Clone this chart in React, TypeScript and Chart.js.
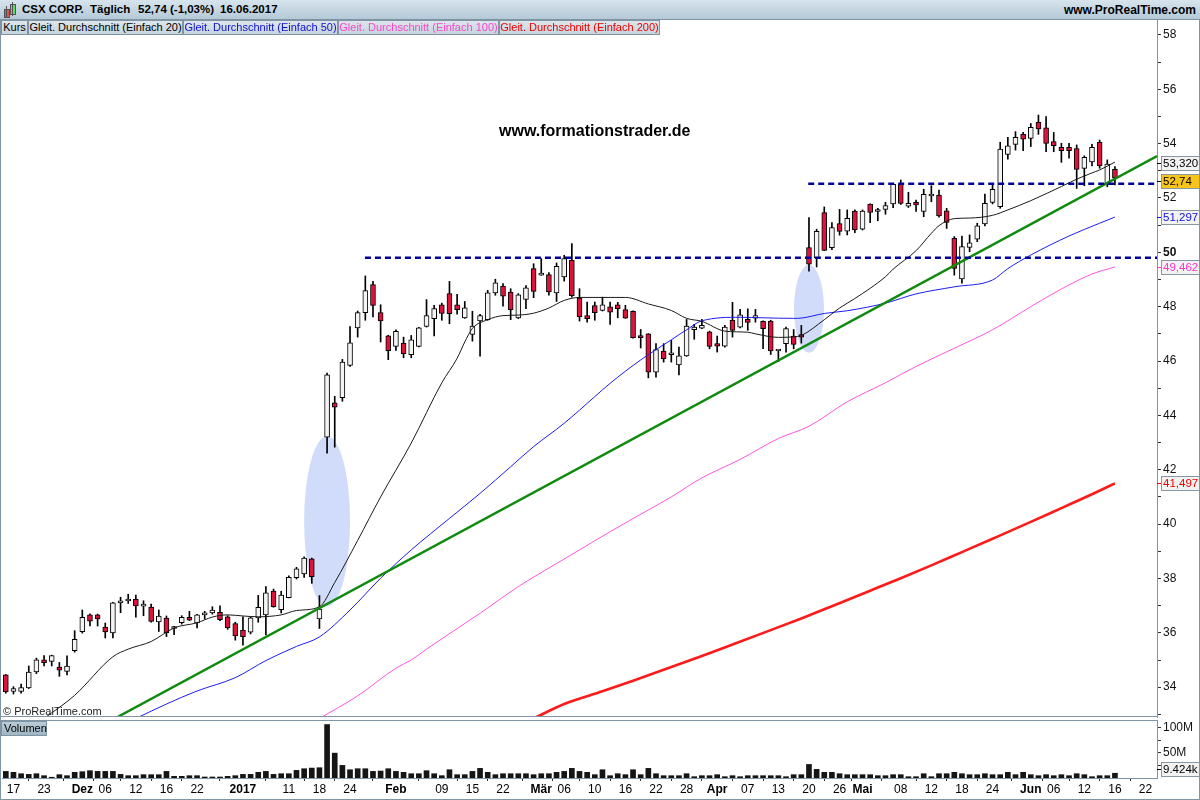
import React, { useEffect, useRef } from 'react';
import { Chart, registerables } from 'chart.js';

Chart.register(...registerables);

const FONT = '"Liberation Sans", Arial, Helvetica, sans-serif';

// ---- categories: trading days (16.11.2016 - 16.06.2017) + empty future slots
const dates = [
  '16.11', '17.11', '18.11', '21.11', '22.11', '23.11', '25.11', '28.11', '29.11', '30.11',
  '01.12', '02.12', '05.12', '06.12', '07.12', '08.12', '09.12', '12.12', '13.12', '14.12', '15.12', '16.12', '19.12', '20.12', '21.12', '22.12', '23.12', '27.12', '28.12', '29.12', '30.12',
  '03.01', '04.01', '05.01', '06.01', '09.01', '10.01', '11.01', '12.01', '13.01', '17.01', '18.01', '19.01', '20.01', '23.01', '24.01', '25.01', '26.01', '27.01', '30.01', '31.01',
  '01.02', '02.02', '03.02', '06.02', '07.02', '08.02', '09.02', '10.02', '13.02', '14.02', '15.02', '16.02', '17.02', '21.02', '22.02', '23.02', '24.02', '27.02', '28.02',
  '01.03', '02.03', '03.03', '06.03', '07.03', '08.03', '09.03', '10.03', '13.03', '14.03', '15.03', '16.03', '17.03', '20.03', '21.03', '22.03', '23.03', '24.03', '27.03', '28.03', '29.03', '30.03', '31.03',
  '03.04', '04.04', '05.04', '06.04', '07.04', '10.04', '11.04', '12.04', '13.04', '17.04', '18.04', '19.04', '20.04', '21.04', '24.04', '25.04', '26.04', '27.04', '28.04',
  '01.05', '02.05', '03.05', '04.05', '05.05', '08.05', '09.05', '10.05', '11.05', '12.05', '15.05', '16.05', '17.05', '18.05', '19.05', '22.05', '23.05', '24.05', '25.05', '26.05', '30.05', '31.05',
  '01.06', '02.06', '05.06', '06.06', '07.06', '08.06', '09.06', '12.06', '13.06', '14.06', '15.06', '16.06',
  '19.06', '20.06', '21.06', '22.06', '23.06',
];

// ---- OHLC
const opens = [
  34.45, 33.84, 33.84, 33.97, 34.56, 35.01, 34.95, 34.74, 34.58, 35.34,
  36.04, 36.66, 36.66, 36.21, 36.0, 37.1, 37.17, 37.24, 36.98, 36.95,
  36.4, 36.54, 36.16, 36.37, 36.57, 36.36, 36.66, 36.73, 36.75, 36.59,
  36.34, 36.1, 36.02, 36.55, 36.66, 37.54, 36.85, 37.29, 38.03, 38.17,
  38.72, 36.51, 43.2, 44.46, 44.65, 45.84, 47.22, 47.78, 48.81, 47.78,
  46.93, 46.54, 46.66, 46.23, 46.54, 47.27, 47.56, 48.07, 48.48, 48.07,
  47.59, 46.98, 47.48, 47.52, 48.51, 48.76, 48.54, 47.59, 48.27, 49.4,
  49.16, 49.18, 48.51, 49.09, 49.71, 48.32, 47.67, 48.04, 47.86, 47.99,
  48.07, 47.89, 47.83, 46.94, 47.0, 45.59, 46.37, 46.23, 45.86, 46.19,
  47.15, 47.21, 47.07, 46.64, 46.55, 47.5, 47.25, 47.53, 47.58, 47.46,
  47.47, 46.37, 46.64, 46.92, 46.97, 50.17, 49.8, 51.46, 50.17, 51.06,
  50.78, 51.52, 50.85, 51.77, 51.5, 51.58, 51.78, 52.51, 51.7, 51.84,
  51.5, 52.07, 52.11, 51.53, 50.51, 49.02, 50.18, 50.48, 51.04, 51.84,
  51.68, 53.6, 53.97, 54.34, 54.19, 54.78, 54.58, 54.07, 53.86, 53.86,
  53.82, 53.09, 53.33, 54.05, 52.51, 53.05,
];
const highs = [
  34.47, 34.02, 34.11, 34.78, 35.07, 35.16, 35.18, 34.91, 35.15, 36.08,
  36.84, 36.7, 36.69, 36.36, 37.12, 37.31, 37.42, 37.39, 37.18, 37.06,
  36.84, 36.62, 36.24, 36.63, 36.79, 36.68, 36.79, 36.96, 36.99, 36.63,
  36.39, 36.59, 36.59, 37.38, 37.7, 37.61, 37.53, 38.1, 38.41, 38.8,
  38.75, 37.37, 45.56, 44.7, 46.06, 47.27, 47.84, 49.13, 48.93, 48.07,
  46.95, 47.15, 46.88, 46.94, 47.24, 48.26, 48.05, 48.13, 48.93, 48.45,
  48.19, 47.83, 47.72, 48.6, 49.01, 48.85, 48.66, 48.48, 48.78, 49.58,
  49.77, 49.25, 49.61, 49.89, 50.32, 48.66, 48.17, 48.17, 48.35, 48.17,
  48.16, 48.05, 47.85, 47.16, 47.01, 46.64, 46.64, 46.76, 46.51, 47.53,
  47.35, 47.53, 47.1, 46.92, 47.31, 48.16, 47.9, 47.92, 47.9, 47.48,
  47.5, 46.39, 47.25, 47.16, 47.31, 51.28, 50.85, 51.67, 51.09, 51.58,
  51.56, 51.56, 51.56, 51.78, 51.62, 51.84, 52.51, 52.66, 52.21, 51.92,
  52.32, 52.45, 52.29, 51.62, 50.58, 50.6, 50.64, 51.07, 52.14, 52.48,
  54.05, 54.23, 54.44, 54.41, 54.74, 55.05, 54.99, 54.41, 54.01, 54.01,
  53.95, 53.55, 53.97, 54.13, 53.4, 53.15,
];
const lows = [
  33.78, 33.75, 33.78, 33.95, 34.5, 34.78, 34.78, 34.4, 34.45, 35.29,
  35.99, 36.25, 36.25, 35.81, 35.81, 36.74, 37.08, 36.58, 36.63, 36.39,
  36.05, 35.86, 35.93, 36.32, 36.45, 36.18, 36.51, 36.69, 36.45, 36.13,
  35.73, 35.55, 35.96, 36.39, 35.92, 36.94, 36.73, 37.28, 37.98, 38.04,
  37.82, 36.16, 42.61, 42.83, 44.52, 45.8, 46.88, 47.5, 47.62, 46.7,
  46.05, 46.39, 46.12, 46.12, 46.52, 47.25, 46.92, 47.5, 47.37, 47.72,
  47.57, 46.73, 46.18, 47.5, 48.42, 48.02, 47.52, 47.56, 47.93, 48.33,
  49.15, 48.42, 48.19, 48.94, 48.35, 47.47, 47.43, 47.5, 47.84, 47.35,
  47.59, 47.57, 46.84, 46.48, 45.38, 45.41, 45.96, 45.96, 45.49, 46.17,
  46.8, 47.19, 46.45, 46.33, 46.51, 46.88, 47.22, 47.13, 47.43, 46.45,
  46.24, 45.98, 46.33, 46.45, 46.66, 49.31, 49.46, 50.06, 50.1, 50.63,
  50.64, 50.72, 50.82, 51.09, 51.16, 51.4, 51.64, 51.76, 51.65, 51.5,
  51.31, 51.86, 51.29, 50.88, 49.16, 48.86, 50.02, 50.39, 50.97, 51.78,
  51.62, 53.43, 53.76, 53.74, 53.89, 54.34, 53.7, 53.7, 53.31, 53.46,
  52.35, 52.45, 53.18, 53.09, 52.41, 52.48,
];
const closes = [
  33.83, 33.95, 33.99, 34.56, 35.01, 34.9, 35.16, 34.63, 34.78, 35.76,
  36.57, 36.43, 36.51, 36.03, 37.1, 37.18, 37.24, 36.99, 37.0, 36.42,
  36.62, 36.0, 36.18, 36.57, 36.47, 36.66, 36.68, 36.84, 36.48, 36.18,
  35.89, 35.86, 36.55, 36.94, 37.47, 36.96, 37.39, 38.04, 38.35, 38.75,
  38.07, 36.87, 45.49, 44.3, 45.96, 46.67, 47.78, 48.59, 48.05, 47.48,
  46.38, 47.09, 46.27, 46.78, 47.22, 47.67, 47.93, 47.75, 47.74, 47.89,
  47.96, 47.29, 47.67, 48.51, 48.88, 48.39, 47.89, 48.44, 48.69, 48.56,
  49.18, 48.54, 49.48, 49.77, 48.4, 47.62, 47.56, 47.78, 48.07, 47.8,
  47.93, 47.58, 46.86, 46.86, 45.59, 46.42, 46.08, 46.3, 46.19, 47.29,
  47.25, 47.31, 46.54, 46.55, 47.25, 47.13, 47.7, 47.42, 47.67, 47.19,
  46.37, 46.38, 47.19, 46.61, 46.88, 49.56, 50.77, 50.07, 50.91, 50.77,
  51.25, 50.82, 51.52, 51.47, 51.52, 51.72, 52.5, 51.8, 51.8, 51.74,
  52.13, 52.14, 51.34, 51.1, 49.41, 50.21, 50.35, 50.97, 51.8, 52.32,
  53.8, 53.92, 54.23, 54.16, 54.6, 54.54, 54.01, 53.92, 53.74, 53.74,
  53.05, 53.49, 53.86, 53.18, 53.25, 52.74,
];

// ---- volume (millions)
const volumesM = [
  13.1, 11.2, 8.5, 7.2, 8.5, 4.6, 1.5, 6.6, 4.6, 11.2,
  12.5, 14.5, 13.1, 13.1, 13.1, 7.2, 4.6, 4.6, 6.6, 6.6,
  6.6, 13.1, 3.3, 3.3, 4.6, 4.6, 2.0, 2.0, 2.0, 3.3,
  4.6, 7.2, 7.2, 11.2, 13.1, 7.2, 8.5, 8.5, 15.1, 18.4,
  19.7, 20.4, 106, 49.3, 25.0, 16.4, 18.4, 18.4, 13.1, 13.8,
  18.4, 13.1, 11.2, 8.5, 8.5, 14.5, 8.5, 4.6, 16.4, 6.6,
  6.6, 13.1, 19.1, 11.2, 6.6, 8.5, 8.5, 8.5, 8.5, 6.6,
  8.5, 8.5, 11.2, 13.1, 19.1, 13.1, 11.2, 6.6, 16.4, 4.6,
  8.5, 6.6, 16.4, 6.6, 19.1, 8.5, 4.6, 4.6, 4.6, 8.5,
  2.6, 4.6, 4.6, 6.6, 2.6, 4.6, 2.6, 4.6, 4.6, 4.6,
  4.6, 4.6, 2.6, 6.6, 6.6, 26.9, 17.1, 11.2, 11.2, 8.5,
  6.6, 6.6, 6.6, 6.6, 4.6, 4.6, 6.6, 6.6, 2.6, 2.6,
  8.5, 2.6, 8.5, 8.5, 11.2, 8.5, 6.6, 6.6, 8.5, 6.6,
  6.6, 11.2, 6.6, 11.2, 6.6, 4.6, 6.6, 4.6, 6.6, 4.6,
  8.5, 6.6, 2.6, 4.6, 4.6, 9.424,
];

// ---- moving averages (sampled: bar index, value)
const ma20X = [5, 9, 14, 16, 19, 22, 25, 27, 29, 31, 33, 36, 38, 41, 43, 46, 49, 53, 57, 59, 60, 61, 63, 65, 67, 69, 71, 73, 75, 81, 84, 87, 89, 91, 94, 97, 98, 101, 103, 104, 107, 109, 111, 115, 116, 119, 121, 122, 124, 126, 129, 131, 134, 138, 140, 142, 143, 145];
const ma20Y = [32.85, 33.7, 35.12, 35.4, 35.68, 36.18, 36.37, 36.58, 36.66, 36.62, 36.59, 36.66, 36.82, 36.96, 37.85, 39.4, 41.0, 42.98, 45.2, 46.1, 46.7, 47.2, 47.52, 47.67, 47.69, 47.76, 47.95, 48.23, 48.34, 48.34, 48.1, 47.86, 47.57, 47.46, 47.1, 47.06, 47.0, 46.87, 46.89, 46.94, 47.52, 47.95, 48.3, 49.1, 49.38, 50.06, 50.7, 50.98, 51.24, 51.26, 51.36, 51.56, 51.9, 52.42, 52.69, 52.92, 53.03, 53.32];
const ma50X = [17, 21, 25, 30, 34, 38, 41, 45, 49, 53, 58, 62, 66, 69, 73, 77, 79, 83, 87, 89, 91, 96, 99, 103, 104, 107, 110, 115, 119, 124, 129, 131, 134, 139, 143, 145];
const ma50Y = [32.85, 33.38, 33.86, 34.35, 34.98, 35.5, 35.85, 36.84, 38.01, 39.05, 40.21, 41.13, 42.11, 42.85, 43.71, 44.69, 45.18, 46.04, 46.78, 47.15, 47.48, 47.61, 47.59, 47.57, 47.58, 47.75, 47.85, 48.13, 48.47, 48.73, 48.98, 49.4, 49.9, 50.6, 51.07, 51.297];
const ma100X = [41, 46, 51, 53, 55, 62, 67, 72, 75, 79, 84, 87, 91, 96, 101, 105, 110, 115, 119, 124, 129, 134, 138, 142, 145];
const ma100Y = [32.85, 33.68, 34.7, 35.0, 35.4, 36.72, 37.7, 38.55, 39.05, 39.72, 40.52, 41.0, 41.7, 42.38, 43.15, 43.6, 44.5, 45.2, 45.8, 46.47, 47.15, 48.0, 48.65, 49.2, 49.462];
const ma200X = [69, 73, 78, 82, 86, 91, 95, 100, 104, 108, 113, 117, 121, 125, 129, 134, 138, 142, 145];
const ma200Y = [32.85, 33.38, 33.85, 34.24, 34.64, 35.15, 35.57, 36.1, 36.53, 36.98, 37.55, 38.01, 38.48, 38.97, 39.46, 40.08, 40.59, 41.1, 41.497];

// ---- drawn annotations (bar index / price)
const trendX = [14.66, 150.5];
const trendY = [32.91, 53.54];
const resistanceStart = [46.95, 104.9];
const resistanceLevel = [49.8, 52.52];
const ellipseIdx = [42, 105];
const ellipseVal = [40.1, 47.92];
const ellipseRadIdx = [3.0, 1.96];
const ellipseRadVal = [3.13, 1.62];

// ---- x-axis tick labels
const xTickIdx = [1, 5, 10, 13, 17, 21, 25, 31, 37, 41, 45, 51, 57, 61, 65, 70, 73, 77, 81, 85, 89, 93, 97, 101, 105, 109, 112, 117, 121, 125, 129, 134, 137, 141, 145, 149];
const xTickLabels = ['17', '23', 'Dez', '06', '12', '16', '22', '2017', '11', '18', '24', 'Feb', '09', '15', '22', 'Mär', '06', '10', '16', '22', '28', 'Apr', '07', '13', '20', '26', 'Mai', '08', '12', '18', '24', 'Jun', '06', '12', '16', '22'];
const xBoldLabels = ['Dez', '2017', 'Feb', 'Mär', 'Apr', 'Mai', 'Jun'];

const PRICE_MIN = 32.903;
const PRICE_MAX = 58.547;
const VOL_MAX = 115;

const UP_FILL = '#f4f4f4';
const DOWN_FILL = '#dc143c';
const FRAME = '#7f95a3';

const fmt = (v: number, d: number) => v.toFixed(d).replace('.', ',');

function drawAxisBox(ctx: CanvasRenderingContext2D, axisX: number, cy: number, text: string, color: string, fill: string, tick: string) {
  const bx = axisX + 4;
  const bw = 38;
  const bh = 14;
  ctx.save();
  ctx.strokeStyle = tick;
  ctx.lineWidth = 1;
  ctx.beginPath();
  ctx.moveTo(axisX, Math.round(cy) + 0.5);
  ctx.lineTo(bx, Math.round(cy) + 0.5);
  ctx.stroke();
  ctx.fillStyle = fill;
  ctx.fillRect(bx + 0.5, Math.round(cy - bh / 2) + 0.5, bw, bh);
  ctx.strokeStyle = '#8797a3';
  ctx.strokeRect(bx + 0.5, Math.round(cy - bh / 2) + 0.5, bw, bh);
  ctx.fillStyle = color;
  ctx.font = `11.5px ${FONT}`;
  ctx.textBaseline = 'middle';
  ctx.textAlign = 'left';
  ctx.fillText(text, bx + 2, Math.round(cy) + 1);
  ctx.restore();
}

const priceDecor = {
  id: 'priceDecor',
  beforeDatasetsDraw(chart: any) {
    const { ctx, scales, chartArea } = chart;
    const xs = scales.x;
    const ys = scales.y;
    ctx.save();
    ctx.beginPath();
    ctx.rect(chartArea.left, chartArea.top, chartArea.right - chartArea.left, chartArea.bottom - chartArea.top);
    ctx.clip();
    ctx.fillStyle = '#d0dcf9';
    for (let k = 0; k < ellipseIdx.length; k++) {
      const cx = xs.getPixelForValue(ellipseIdx[k]);
      const cy = ys.getPixelForValue(ellipseVal[k]);
      const rx = Math.abs(xs.getPixelForValue(ellipseIdx[k] + ellipseRadIdx[k]) - cx);
      const ry = Math.abs(ys.getPixelForValue(ellipseVal[k] + ellipseRadVal[k]) - cy);
      ctx.beginPath();
      ctx.ellipse(cx, cy, rx, ry, 0, 0, Math.PI * 2);
      ctx.fill();
    }
    ctx.restore();
  },
  afterDraw(chart: any) {
    const { ctx, scales, chartArea } = chart;
    const xs = scales.x;
    const ys = scales.y;
    ctx.save();
    ctx.fillStyle = '#000';
    ctx.font = `bold 16px ${FONT}`;
    ctx.textAlign = 'center';
    ctx.textBaseline = 'middle';
    ctx.fillText('www.formationstrader.de', xs.getPixelForValue(77), ys.getPixelForValue(54.43));
    ctx.font = `11px ${FONT}`;
    ctx.textAlign = 'left';
    ctx.textBaseline = 'alphabetic';
    ctx.fillStyle = '#222';
    ctx.fillText('© ProRealTime.com', chartArea.left + 1, chartArea.bottom - 2);
    ctx.restore();

    const last = closes.length - 1;
    const axisX = chartArea.right;
    const boxes = [
      { v: ma20Y[ma20Y.length - 1], t: fmt(ma20Y[ma20Y.length - 1], 3), c: '#000', f: '#f2f2f2', k: '#000', dy: 1 },
      { v: closes[last], t: fmt(closes[last], 2), c: '#000', f: '#f7c41a', k: '#000', dy: 3 },
      { v: ma50Y[ma50Y.length - 1], t: fmt(ma50Y[ma50Y.length - 1], 3), c: '#1010e0', f: '#f2f2f2', k: '#1010e0', dy: 0 },
      { v: ma100Y[ma100Y.length - 1], t: fmt(ma100Y[ma100Y.length - 1], 3), c: '#ff33cc', f: '#f2f2f2', k: '#ff33cc', dy: 0 },
      { v: ma200Y[ma200Y.length - 1], t: fmt(ma200Y[ma200Y.length - 1], 3), c: '#ee0000', f: '#f2f2f2', k: '#ee0000', dy: 0 },
    ];
    boxes.forEach((b) => drawAxisBox(ctx, axisX, ys.getPixelForValue(b.v) + b.dy, b.t, b.c, b.f, b.k));
  },
};

const volDecor = {
  id: 'volDecor',
  afterDraw(chart: any) {
    const { ctx, scales, chartArea } = chart;
    const ys = scales.y;
    const v = volumesM[volumesM.length - 1];
    const cy = Math.min(ys.getPixelForValue(v), chartArea.bottom - 9);
    drawAxisBox(ctx, chartArea.right, cy, fmt(v, 3).replace(',', '.') + 'k', '#000', '#f2f2f2', '#000');
  },
};

const candleIdx = closes.map((_, i) => i);

const noPad = (s: any) => {
  s.paddingTop = 0;
  s.paddingBottom = 0;
  s.paddingLeft = 0;
  s.paddingRight = 0;
};

function priceConfig(): any {
  const line = (xs: number[], ysArr: number[], color: string, width: number, order: number, dash?: number[], smooth = true) => ({
    type: 'line',
    data: xs.map((x, i) => ({ x, y: ysArr[i] })),
    borderColor: color,
    borderWidth: width,
    borderDash: dash || [],
    pointRadius: 0,
    tension: 0,
    cubicInterpolationMode: smooth ? 'monotone' : 'default',
    fill: false,
    order,
  });
  return {
    type: 'bar',
    data: {
      datasets: [
        {
          type: 'bar',
          label: 'wick',
          data: candleIdx.map((i) => ({ x: i, y: [lows[i], highs[i]] })),
          backgroundColor: '#000',
          borderWidth: 0,
          barThickness: 1,
          grouped: false,
          order: 11,
        },
        {
          type: 'bar',
          label: 'body',
          data: candleIdx.map((i) => ({ x: i, y: [Math.min(opens[i], closes[i]), Math.max(opens[i], closes[i])] })),
          backgroundColor: candleIdx.map((i) => (closes[i] >= opens[i] ? UP_FILL : DOWN_FILL)),
          borderColor: '#000',
          borderWidth: 1,
          borderSkipped: false,
          barThickness: 5,
          minBarLength: 2,
          grouped: false,
          order: 10,
        },
        line(ma200X, ma200Y, '#ff1a1a', 2.6, 6),
        line(ma100X, ma100Y, '#ff55dd', 1, 5),
        line(ma50X, ma50Y, '#1c1cf2', 1, 4),
        line(ma20X, ma20Y, '#1a1a1a', 1, 3),
        line(trendX, trendY, '#0e8a0e', 2.4, 2, undefined, false),
        line([resistanceStart[0], 150.5], [resistanceLevel[0], resistanceLevel[0]], '#000096', 2.4, 1, [6, 4], false),
        line([resistanceStart[1], 150.5], [resistanceLevel[1], resistanceLevel[1]], '#000096', 2.4, 1, [6, 4], false),
      ],
    },
    options: {
      animation: false,
      responsive: false,
      maintainAspectRatio: false,
      devicePixelRatio: 1,
      layout: { padding: { left: 2, right: 0, top: 0, bottom: 1 } },
      plugins: { legend: { display: false }, tooltip: { enabled: false } },
      scales: {
        x: { type: 'linear', min: -0.5, max: dates.length - 0.5, offset: false, display: false },
        y: {
          position: 'right',
          min: PRICE_MIN,
          max: PRICE_MAX,
          afterFit: (s: any) => { s.width = 43; noPad(s); },
          ticks: {
            stepSize: 1,
            includeBounds: false,
            autoSkip: false,
            padding: 2,
            color: '#111',
            callback: (v: any) => (Number(v) % 2 === 0 ? String(v) : ''),
            font: (c: any) => ({ family: FONT, size: 12, weight: c.tick && c.tick.value === 50 ? 'bold' : 'normal' }),
          },
          grid: { drawOnChartArea: false, tickLength: 4, color: '#333' },
          border: { color: FRAME },
        },
      },
    },
    plugins: [priceDecor],
  };
}

function volConfig(): any {
  return {
    type: 'bar',
    data: {
      datasets: [
        {
          data: volumesM.map((v, i) => ({ x: i, y: v })),
          backgroundColor: '#151515',
          borderWidth: 0,
          barThickness: 5,
          grouped: false,
        },
      ],
    },
    options: {
      animation: false,
      responsive: false,
      maintainAspectRatio: false,
      devicePixelRatio: 1,
      layout: { padding: { left: 2, right: 0, top: 2, bottom: 0 } },
      plugins: { legend: { display: false }, tooltip: { enabled: false } },
      scales: {
        x: {
          type: 'linear',
          min: -0.5,
          max: dates.length - 0.5,
          offset: false,
          afterBuildTicks: (s: any) => { s.ticks = xTickIdx.map((v) => ({ value: v })); },
          afterFit: (s: any) => { s.height = 22; noPad(s); },
          ticks: {
            autoSkip: false,
            maxRotation: 0,
            padding: 1,
            color: '#000',
            callback: (v: any) => {
              const k = xTickIdx.indexOf(Number(v));
              return k >= 0 ? xTickLabels[k] : '';
            },
            font: (c: any) => {
              const k = c.tick ? xTickIdx.indexOf(c.tick.value) : -1;
              const bold = k >= 0 && xBoldLabels.includes(xTickLabels[k]);
              return { family: FONT, size: 12, weight: bold ? 'bold' : 'normal' };
            },
          },
          grid: { drawOnChartArea: false, tickLength: 3, color: '#333' },
          border: { color: FRAME },
        },
        y: {
          position: 'right',
          min: 0,
          max: VOL_MAX,
          afterBuildTicks: (s: any) => { s.ticks = [25, 50, 75, 100].map((v) => ({ value: v })); },
          afterFit: (s: any) => { s.width = 43; noPad(s); },
          ticks: {
            autoSkip: false,
            padding: 2,
            color: '#111',
            font: { family: FONT, size: 12 },
            callback: (v: any) => (Number(v) === 100 ? '100M' : Number(v) === 50 ? '50M' : ''),
          },
          grid: { drawOnChartArea: false, tickLength: 4, color: '#333' },
          border: { color: FRAME },
        },
      },
    },
    plugins: [volDecor],
  };
}

const legendItems = [
  { text: 'Kurs', color: '#000', w: 27 },
  { text: 'Gleit. Durchschnitt (Einfach 20)', color: '#000', w: 155 },
  { text: 'Gleit. Durchschnitt (Einfach 50)', color: '#1010d0', w: 155 },
  { text: 'Gleit. Durchschnitt (Einfach 100)', color: '#ff44cc', w: 161 },
  { text: 'Gleit. Durchschnitt (Einfach 200)', color: '#ee0000', w: 161 },
];

export default function App() {
  const priceRef = useRef<HTMLCanvasElement>(null);
  const volRef = useRef<HTMLCanvasElement>(null);

  useEffect(() => {
    const pc = new Chart(priceRef.current as HTMLCanvasElement, priceConfig());
    const vc = new Chart(volRef.current as HTMLCanvasElement, volConfig());
    return () => {
      pc.destroy();
      vc.destroy();
    };
  }, []);

  let lx = 1;
  return (
    <div style={{ position: 'fixed', left: 0, top: 0, width: 1200, height: 800, background: '#fff', overflow: 'hidden', fontFamily: FONT }}>
      <canvas ref={priceRef} width={1200} height={698} style={{ position: 'absolute', left: 0, top: 20, width: 1200, height: 698 }} />
      <canvas ref={volRef} width={1200} height={82} style={{ position: 'absolute', left: 0, top: 718, width: 1200, height: 82 }} />

      {/* header bar */}
      <div style={{ position: 'absolute', left: 0, top: 0, width: 1200, height: 20, background: 'linear-gradient(#d7e4ed, #b4c9d7)', borderBottom: `1px solid ${FRAME}`, boxSizing: 'border-box', fontWeight: 'bold', fontSize: 11.5, color: '#000' }}>
        <div style={{ position: 'absolute', left: 4, top: 9, width: 4, height: 7, background: '#e05050', border: '1px solid #555' }} />
        <div style={{ position: 'absolute', left: 5.5, top: 6, width: 1, height: 12, background: '#555' }} />
        <div style={{ position: 'absolute', left: 10, top: 4, width: 4, height: 9, background: '#5ddc5d', border: '1px solid #555' }} />
        <div style={{ position: 'absolute', left: 11.5, top: 2, width: 1, height: 14, background: '#555' }} />
        <span style={{ position: 'absolute', left: 22, top: 3 }}>CSX CORP.</span>
        <span style={{ position: 'absolute', left: 90, top: 3 }}>Täglich</span>
        <span style={{ position: 'absolute', left: 138, top: 3 }}>52,74 (-1,03%)</span>
        <span style={{ position: 'absolute', left: 220, top: 3 }}>16.06.2017</span>
        <span style={{ position: 'absolute', right: 4, top: 3, fontSize: 12 }}>www.ProRealTime.com</span>
      </div>

      {/* legend row */}
      {legendItems.map((it, k) => {
        const left = lx;
        lx += it.w;
        return (
          <div key={k} style={{ position: 'absolute', left, top: 20, width: it.w, height: 15, boxSizing: 'border-box', border: `1px solid ${FRAME}`, background: 'linear-gradient(#dde6ec, #c6d4dd)', color: it.color, fontSize: 11, lineHeight: '13px', textAlign: 'center', whiteSpace: 'nowrap', overflow: 'hidden' }}>
            {it.text}
          </div>
        );
      })}

      {/* panel separators and frame */}
      <div style={{ position: 'absolute', left: 0, top: 716, width: 1157, height: 1, background: FRAME }} />
      <div style={{ position: 'absolute', left: 0, top: 720, width: 1157, height: 1, background: FRAME }} />
      <div style={{ position: 'absolute', left: 0, top: 20, width: 1, height: 780, background: FRAME }} />
      <div style={{ position: 'absolute', left: 0, top: 799, width: 1200, height: 1, background: FRAME }} />
      <div style={{ position: 'absolute', left: 1199, top: 20, width: 1, height: 780, background: FRAME }} />

      {/* volume label */}
      <div style={{ position: 'absolute', left: 1, top: 721, width: 46, height: 15, boxSizing: 'border-box', border: `1px solid ${FRAME}`, background: 'linear-gradient(#b9ccd7, #9fb6c4)', fontSize: 11, lineHeight: '13px', paddingLeft: 2, color: '#000' }}>
        Volumen
      </div>
    </div>
  );
}
